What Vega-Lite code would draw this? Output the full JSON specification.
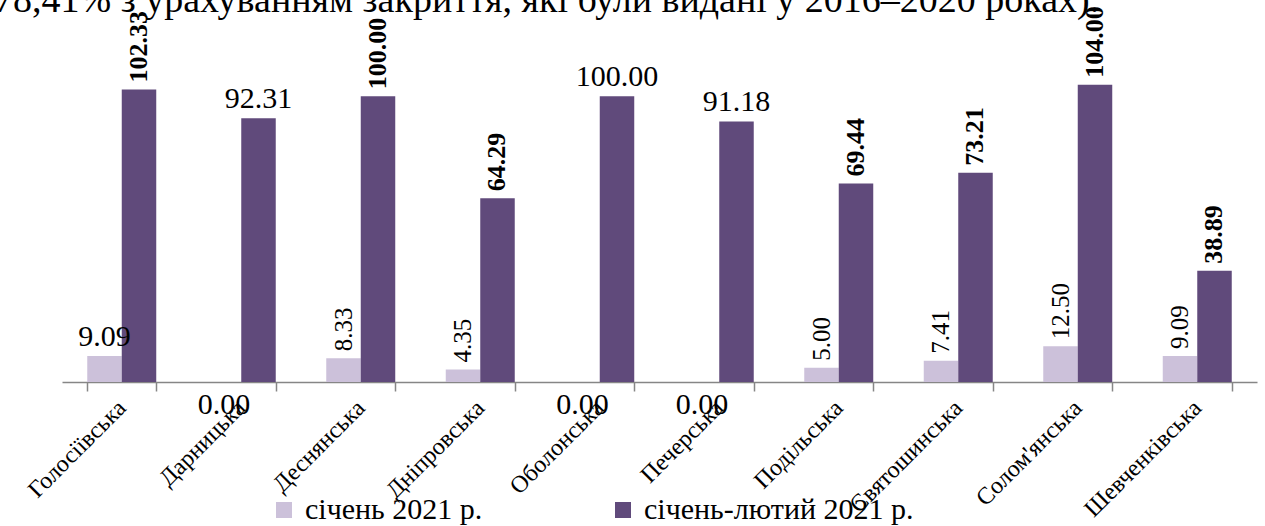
{
  "$schema": "https://vega.github.io/schema/vega-lite/v6.json",
  "width": 1195,
  "height": 343,
  "autosize": {"type": "none"},
  "padding": {"left": 62, "top": 39, "right": 8, "bottom": 144},
  "background": "white",
  "title": {
    "text": "78,41% з урахуванням закриття, які були видані у 2016–2020 роках).",
    "anchor": "start",
    "frame": "group",
    "font": "Liberation Serif",
    "fontSize": 38,
    "fontWeight": "normal",
    "color": "black",
    "baseline": "alphabetic",
    "offset": 0,
    "dx": -68,
    "dy": 44
  },
  "data": {
    "values": [
      {"district": "Голосіївська", "series": "січень 2021 р.", "value": 9.09},
      {"district": "Голосіївська", "series": "січень-лютий 2021 р.", "value": 102.33},
      {"district": "Дарницька", "series": "січень 2021 р.", "value": 0},
      {"district": "Дарницька", "series": "січень-лютий 2021 р.", "value": 92.31},
      {"district": "Деснянська", "series": "січень 2021 р.", "value": 8.33},
      {"district": "Деснянська", "series": "січень-лютий 2021 р.", "value": 100.0},
      {"district": "Дніпровська", "series": "січень 2021 р.", "value": 4.35},
      {"district": "Дніпровська", "series": "січень-лютий 2021 р.", "value": 64.29},
      {"district": "Оболонська", "series": "січень 2021 р.", "value": 0},
      {"district": "Оболонська", "series": "січень-лютий 2021 р.", "value": 100.0},
      {"district": "Печерська", "series": "січень 2021 р.", "value": 0},
      {"district": "Печерська", "series": "січень-лютий 2021 р.", "value": 91.18},
      {"district": "Подільська", "series": "січень 2021 р.", "value": 5.0},
      {"district": "Подільська", "series": "січень-лютий 2021 р.", "value": 69.44},
      {"district": "Святошинська", "series": "січень 2021 р.", "value": 7.41},
      {"district": "Святошинська", "series": "січень-лютий 2021 р.", "value": 73.21},
      {"district": "Солом'янська", "series": "січень 2021 р.", "value": 12.5},
      {"district": "Солом'янська", "series": "січень-лютий 2021 р.", "value": 104.0},
      {"district": "Шевченківська", "series": "січень 2021 р.", "value": 9.09},
      {"district": "Шевченківська", "series": "січень-лютий 2021 р.", "value": 38.89}
    ]
  },
  "encoding": {
    "x": {
      "field": "district",
      "type": "nominal",
      "sort": null,
      "scale": {"paddingInner": 0.4226, "paddingOuter": 0.2113},
      "axis": {
        "title": null,
        "domainColor": "#868686",
        "domainWidth": 1.5,
        "tickColor": "#868686",
        "tickWidth": 1.5,
        "tickSize": 9,
        "tickBand": "extent",
        "labelAngle": -45,
        "labelAlign": "right",
        "labelBaseline": "middle",
        "labelFont": "Liberation Serif",
        "labelFontSize": 24,
        "labelColor": "black",
        "labelPadding": 13,
        "labelOverlap": false,
        "labelBound": false
      }
    },
    "xOffset": {
      "field": "series",
      "type": "nominal",
      "sort": null,
      "scale": {"paddingInner": 0, "paddingOuter": 0}
    },
    "y": {
      "field": "value",
      "type": "quantitative",
      "scale": {"domain": [0, 120], "nice": false, "zero": true},
      "axis": null
    }
  },
  "layer": [
    {
      "mark": {"type": "bar"},
      "encoding": {
        "color": {
          "field": "series",
          "type": "nominal",
          "sort": null,
          "scale": {
            "domain": ["січень 2021 р.", "січень-лютий 2021 р."],
            "range": ["#CCC1DA", "#604A7B"]
          },
          "legend": {
            "title": null,
            "orient": "none",
            "legendX": 207,
            "legendY": 456,
            "direction": "horizontal",
            "symbolType": "square",
            "symbolSize": 256,
            "symbolStrokeWidth": 0,
            "symbolOpacity": 1,
            "labelFont": "Liberation Serif",
            "labelFontSize": 30,
            "labelColor": "black",
            "labelOffset": 6,
            "labelLimit": 500,
            "columnPadding": 125
          }
        }
      }
    },
    {
      "transform": [
        {"filter": "(datum.series === 'січень 2021 р.' && datum.district === 'Голосіївська') || (datum.series === 'січень-лютий 2021 р.' && indexof(['Дарницька','Оболонська','Печерська'], datum.district) >= 0)"}
      ],
      "mark": {
        "type": "text",
        "font": "Liberation Serif",
        "fontSize": 30,
        "color": "black",
        "align": "center",
        "baseline": "alphabetic",
        "dy": -10
      },
      "encoding": {"text": {"field": "value", "type": "quantitative", "format": ".2f"}}
    },
    {
      "transform": [{"filter": "datum.value === 0"}],
      "mark": {
        "type": "text",
        "font": "Liberation Serif",
        "fontSize": 30,
        "color": "black",
        "align": "center",
        "baseline": "alphabetic",
        "dy": 32
      },
      "encoding": {"text": {"field": "value", "type": "quantitative", "format": ".2f"}}
    },
    {
      "transform": [
        {"filter": "datum.series === 'січень 2021 р.' && datum.value > 0 && datum.district !== 'Голосіївська'"}
      ],
      "mark": {
        "type": "text",
        "font": "Liberation Serif",
        "fontSize": 25,
        "color": "black",
        "angle": 270,
        "align": "left",
        "baseline": "middle",
        "dx": 7
      },
      "encoding": {"text": {"field": "value", "type": "quantitative", "format": ".2f"}}
    },
    {
      "transform": [
        {"filter": "datum.series === 'січень-лютий 2021 р.' && indexof(['Дарницька','Оболонська','Печерська'], datum.district) < 0"}
      ],
      "mark": {
        "type": "text",
        "font": "Liberation Serif",
        "fontSize": 26,
        "fontWeight": "bold",
        "color": "black",
        "angle": 270,
        "align": "left",
        "baseline": "middle",
        "dx": 7
      },
      "encoding": {"text": {"field": "value", "type": "quantitative", "format": ".2f"}}
    }
  ],
  "config": {"view": {"stroke": null}}
}
